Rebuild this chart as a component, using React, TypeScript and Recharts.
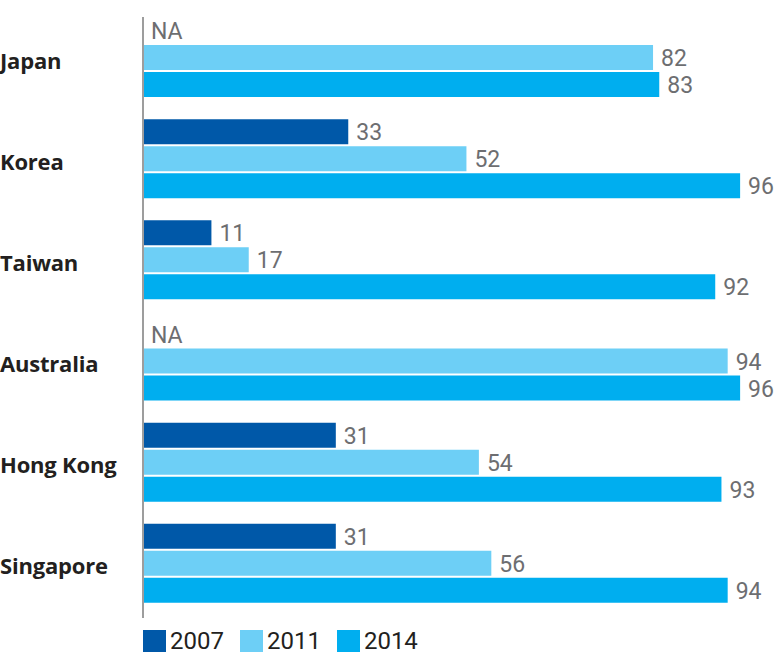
import { BarChart, Bar, XAxis, YAxis, LabelList } from "recharts";

document.body.style.margin = "0";

const countries = ["Japan", "Korea", "Taiwan", "Australia", "Hong Kong", "Singapore"];
const y2007: (number | null)[] = [null, 33, 11, null, 31, 31];
const y2011 = [82, 52, 17, 94, 54, 56];
const y2014 = [83, 96, 92, 96, 93, 94];

const seriesColors = { y2007: "#0058a8", y2011: "#6dcff6", y2014: "#00aeef" };
const legendItems = [
  { label: "2007", color: seriesColors.y2007 },
  { label: "2011", color: seriesColors.y2011 },
  { label: "2014", color: seriesColors.y2014 },
];

// missing 2007 values draw as an empty bar labelled "NA"
const data = countries.map((name, i) => ({
  name,
  y2007: y2007[i] ?? 0,
  y2007Text: y2007[i] == null ? "NA" : String(y2007[i]),
  y2011: y2011[i],
  y2014: y2014[i],
}));

const CountryTick = ({ y, payload }: any) => (
  <text
    x={0}
    y={y}
    dy={2}
    dominantBaseline="central"
    fill="#231f20"
    fontSize={22}
    fontWeight={700}
    fontFamily="'Open Sans', sans-serif"
    letterSpacing={-0.2}
  >
    {payload.value}
  </text>
);

const ValueLabel = (props: any) => {
  const { x, y, width, height, value } = props;
  const isNA = value === "NA";
  return (
    <text
      x={isNA ? Number(x) + 8 : Number(x) + Number(width || 0) + 8}
      y={Number(y) + Number(height) / 2}
      dy={1}
      dominantBaseline="central"
      fill="#6d6e71"
      fontSize={23}
      fontFamily="Roboto, sans-serif"
    >
      {value}
    </text>
  );
};

export default function App() {
  return (
    <div style={{ position: "relative", width: 776, height: 652, background: "#fff", overflow: "hidden" }}>
      <BarChart
        width={776}
        height={624}
        data={data}
        layout="vertical"
        barSize={25}
        barGap={2}
        margin={{ top: 7, right: 11, left: 0, bottom: 10 }}
      >
        <XAxis type="number" domain={[0, 100]} hide />
        <YAxis
          type="category"
          dataKey="name"
          width={143}
          axisLine={false}
          tickLine={false}
          tick={<CountryTick />}
        />
        <Bar dataKey="y2007" fill={seriesColors.y2007} minPointSize={1} isAnimationActive={false}>
          <LabelList dataKey="y2007Text" content={<ValueLabel />} />
        </Bar>
        <Bar dataKey="y2011" fill={seriesColors.y2011} isAnimationActive={false}>
          <LabelList dataKey="y2011" content={<ValueLabel />} />
        </Bar>
        <Bar dataKey="y2014" fill={seriesColors.y2014} isAnimationActive={false}>
          <LabelList dataKey="y2014" content={<ValueLabel />} />
        </Bar>
      </BarChart>

      {/* axis rule */}
      <div style={{ position: "absolute", left: 142, top: 17, width: 2, height: 601, background: "#9d9d9d" }} />

      {/* legend */}
      <div style={{ position: "absolute", left: 143, top: 630, display: "flex", fontFamily: "Roboto, sans-serif" }}>
        {legendItems.map((item) => (
          <div key={item.label} style={{ display: "flex", alignItems: "flex-start", marginRight: 16, height: 22 }}>
            <span style={{ width: 23, height: 22, background: item.color, marginRight: 4 }} />
            <span style={{ fontSize: 24, color: "#231f20", lineHeight: "20px", marginTop: 1 }}>{item.label}</span>
          </div>
        ))}
      </div>
    </div>
  );
}
